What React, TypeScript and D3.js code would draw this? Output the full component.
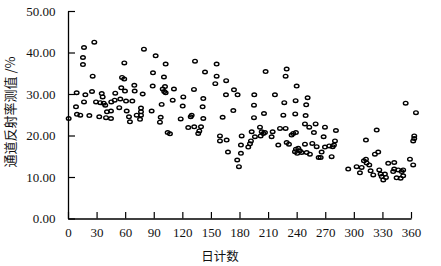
import * as d3 from 'd3'
import { useEffect, useRef } from 'react'

// day of year vs. channel reflectance (%)
const xTicks = [0, 30, 60, 90, 120, 150, 180, 210, 240, 270, 300, 330, 360]
const yTicks = [0, 10, 20, 30, 40, 50]
const xTitle = '日计数'
const yTitle = '通道反射率测值 /%'

const obs: [number, number][] = [
    [0.7, 24.1], [8.4, 26.9], [9.1, 30.3], [9.4, 25.1], [12.9, 24.9], [15.7, 38.8], [15.7, 37.1], [16.8, 41.2],
    [16.8, 28.1], [18.2, 29.8], [22.4, 24.8], [25.2, 30.6], [25.9, 34.3], [27.6, 42.5], [29.4, 28.1], [32.8, 24.5],
    [33.9, 27.9], [35.4, 30.1], [36.4, 29.3], [37.5, 27.8], [39.1, 27.3], [39.9, 24.3], [40.9, 25.7], [45.1, 25.9],
    [45.1, 24.1], [45.4, 28.1], [49, 28.5], [49.6, 30.2], [53.8, 26.7], [54.9, 28.8], [55.9, 31.5], [56.7, 34.0],
    [59, 33.6], [59.1, 37.5], [59.8, 30.7], [60.9, 28.3], [61.6, 25.9], [64, 24.5], [65, 23.3], [67.5, 28.3],
    [69.6, 32.1], [70, 30.7], [72.1, 24.9], [75.6, 23.9], [76.6, 26.6], [76.6, 25.7], [76.6, 24.9], [78.4, 30.0],
    [79.7, 40.8], [87.8, 25.9], [88.9, 31.9], [89.2, 35.1], [92, 39.2], [96.5, 23.2], [97.3, 24.4], [98.3, 27.5],
    [99.4, 31.2], [100.7, 34.1], [101, 30.6], [101.8, 31.8], [102.5, 37.2], [102.5, 30.3], [104.6, 20.7], [107, 20.4],
    [109.9, 28.5], [111.2, 31.2], [118.3, 24.0], [120.4, 27.1], [121, 29.3], [126.2, 21.9], [128.8, 24.5], [129.8, 24.9],
    [132.2, 31.1], [132.5, 22.1], [133.3, 37.9], [136.7, 20.5], [137.8, 21.1], [139.6, 22.1], [141.3, 26.9], [142, 28.9],
    [142, 24.1], [143.8, 35.3], [154.6, 32.5], [156, 37.2], [156, 34.3], [159.5, 19.9], [159.5, 18.7], [162.3, 24.4],
    [165.8, 29.8], [166, 33.2], [166.5, 18.9], [167.9, 16.0], [173.5, 26.0], [174.2, 31.0], [177.6, 14.1], [178, 29.8],
    [179.4, 12.5], [181.5, 15.7], [181.5, 17.7], [182.3, 19.9], [189.2, 17.2], [191, 18.0], [192, 18.7], [192.8, 20.9],
    [195.2, 27.3], [195.2, 24.3], [195.5, 29.8], [196.2, 19.7], [201.5, 22.0], [202.2, 19.9], [203.3, 20.9], [205, 20.5],
    [205.7, 25.3], [206.7, 20.7], [207.4, 35.4], [213.7, 19.7], [214.8, 20.9], [217.2, 29.8], [220.7, 17.7], [222.5, 21.7],
    [226, 24.9], [227, 27.9], [228.4, 34.3], [228.4, 21.7], [229.5, 36.0], [229.5, 18.3], [231.9, 17.9], [234.7, 20.1],
    [236.4, 20.5], [238.2, 16.1], [238.5, 25.2], [238.9, 28.4], [239.2, 20.7], [239.2, 16.7], [240, 31.9], [240.6, 15.7],
    [241.7, 16.9], [243.4, 16.3], [245.2, 15.9], [248.7, 22.8], [248.7, 17.9], [249.4, 24.8], [250, 27.4], [250.5, 15.9],
    [251.5, 29.1], [253.2, 22.0], [253.9, 15.5], [256.4, 18.1], [258.1, 20.7], [259.9, 22.8], [261, 17.3], [263.1, 14.7],
    [265.2, 14.7], [266.2, 16.0], [268.3, 19.7], [269.7, 22.0], [269.7, 17.2], [274.2, 17.5], [276.7, 14.9], [277.8, 17.3],
    [279.1, 17.7], [280.2, 18.7], [281.2, 21.2], [294.1, 11.9], [302.9, 12.5], [306.4, 11.0], [308.2, 12.3], [310.6, 13.9],
    [312.7, 18.9], [312.7, 14.3], [313.4, 13.4], [316.2, 12.9], [317.6, 11.5], [320.4, 10.5], [322.1, 15.5], [324, 21.3],
    [325.6, 16.0], [326.7, 11.7], [328.1, 10.7], [329.2, 10.1], [330.9, 9.3], [332.6, 10.7], [333.7, 9.9], [336.1, 13.3],
    [341.3, 11.3], [342.4, 13.5], [342.4, 11.9], [344.9, 9.8], [346.6, 11.7], [349.1, 9.7], [350.2, 11.3], [351.8, 11.7],
    [351.8, 10.3], [354.4, 27.8], [358.9, 14.3], [362.3, 12.9], [362.3, 18.7], [363.4, 19.9], [363.4, 19.3], [365.2, 25.5]
]

const App = () => {
    const svgRef = useRef<SVGSVGElement>(null)

    useEffect(() => {
        const w = 441
        const h = 266
        const serif = "'Liberation Serif', 'Times New Roman', serif"
        const cjk = "'Noto Sans CJK SC', sans-serif"

        const svg = d3.select(svgRef.current).attr('width', w).attr('height', h)
        svg.selectAll('*').remove()

        const x = d3.scaleLinear().domain([0, 360]).range([68, 411])
        const y = d3.scaleLinear().domain([0, 50]).range([218.5, 11])

        // axes, ticks pointing inward
        const gx = svg.append('g').attr('transform', `translate(0,${y(0)})`)
            .call(d3.axisBottom(x).tickValues(xTicks).tickSize(-6.5).tickSizeOuter(0).tickPadding(9))
        const gy = svg.append('g').attr('transform', `translate(${x(0)},0)`)
            .call(d3.axisLeft(y).tickValues(yTicks).tickSize(-7).tickSizeOuter(0).tickPadding(12.5)
                .tickFormat(d3.format('.2f')))

        for (const g of [gx, gy]) {
            g.select('.domain').attr('stroke', '#000').attr('stroke-width', 1.3)
            g.selectAll('.tick line').attr('stroke', '#000').attr('stroke-width', 1.2)
            g.selectAll('.tick text').attr('fill', '#111').style('font-family', serif).style('font-size', '13px')
        }

        // observations
        svg.append('g').selectAll('ellipse').data(obs).join('ellipse')
            .attr('cx', d => x(d[0])).attr('cy', d => y(d[1]))
            .attr('rx', 2.3).attr('ry', 1.8)
            .attr('fill', 'none').attr('stroke', '#000').attr('stroke-width', 1.4)

        // titles
        svg.append('text').text(xTitle).attr('x', 220).attr('y', 261)
            .attr('text-anchor', 'middle').style('font-family', cjk).style('font-size', '12.5px').attr('fill', '#111')
        svg.append('text').text(yTitle).attr('transform', 'translate(14.5,112) rotate(-90)')
            .attr('text-anchor', 'middle').style('font-family', cjk).style('font-size', '13px').attr('fill', '#111')
    }, [])

    return (
        <div style={{ position: 'absolute', left: 0, top: 0 }}>
            <svg ref={svgRef} style={{ display: 'block' }}></svg>
        </div>
    )
}

export default App
